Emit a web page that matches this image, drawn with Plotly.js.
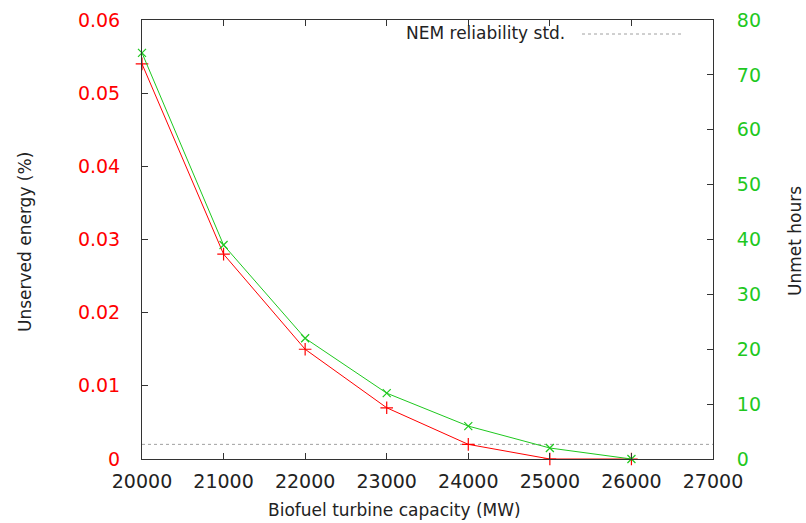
<!DOCTYPE html>
<html>
<head>
<meta charset="utf-8">
<script src="https://cdn.plot.ly/plotly-3.0.1.min.js"></script>
<style>html,body{margin:0;padding:0;background:#fff;}#chart{width:806px;height:523px;}</style>
</head>
<body>
<div id="chart"></div>
<script>
// Data
const capacity = [20000, 21000, 22000, 23000, 24000, 25000, 26000];
const unservedEnergy = [0.054, 0.028, 0.015, 0.007, 0.002, 0, 0];
const unmetHours = [74, 39, 22, 12, 6, 2, 0];
const nemX = [20000, 27000];
const nemY = [0.002, 0.002];
const nemLabel = "NEM reliability std.";
const xTitle = "Biofuel turbine capacity (MW)";
const yTitle = "Unserved energy (%)";
const y2Title = "Unmet hours";

const RED = "#ff0000", GREEN = "#1ec81e", FRAME = "#333333", TEXT = "#222222";
const FONT = "DejaVu Sans";

// plot area in pixels: x 142..713, y 20..459
const px = v => (v - 142) / 571;
const py = v => (459 - v) / 439;

const traces = [
  {x: nemX, y: nemY, type: "scatter", mode: "lines", yaxis: "y",
   line: {color: "#a0a0a0", width: 1, dash: "dot"}, showlegend: false, hoverinfo: "skip"},
  {x: capacity, y: unservedEnergy, type: "scatter", mode: "lines+markers", yaxis: "y",
   line: {color: RED, width: 1}, marker: {symbol: "cross-thin", size: 9, color: RED, line: {color: RED, width: 1.2}},
   cliponaxis: false, showlegend: false},
  {x: capacity, y: unmetHours, type: "scatter", mode: "lines+markers", yaxis: "y2",
   line: {color: GREEN, width: 1}, marker: {symbol: "x-thin", size: 8, color: GREEN, line: {color: GREEN, width: 1.2}},
   cliponaxis: false, showlegend: false}
];

const layout = {
  width: 806, height: 523,
  margin: {l: 142, r: 93, t: 20, b: 64},
  paper_bgcolor: "#fff", plot_bgcolor: "#fff",
  font: {family: FONT, size: 17, color: TEXT},
  showlegend: false,
  xaxis: {
    range: [20000, 27000], dtick: 1000, tick0: 20000, tickformat: "d",
    showgrid: false, zeroline: false,
    showline: true, linecolor: FRAME, linewidth: 1, mirror: "ticks",
    ticks: "inside", ticklen: 6, tickcolor: FRAME,
    tickfont: {family: FONT, size: 19, color: TEXT},
    ticklabelstandoff: 5
  },
  yaxis: {
    range: [0, 0.06], dtick: 0.01, tick0: 0,
    showgrid: false, zeroline: false,
    showline: true, linecolor: FRAME, linewidth: 1,
    ticks: "inside", ticklen: 6, tickcolor: FRAME,
    tickfont: {family: FONT, size: 19, color: RED},
    ticklabelstandoff: 17
  },
  yaxis2: {
    range: [0, 80], dtick: 10, tick0: 0, overlaying: "y", side: "right",
    showgrid: false, zeroline: false,
    showline: true, linecolor: FRAME, linewidth: 1,
    ticks: "inside", ticklen: 6, tickcolor: FRAME,
    tickfont: {family: FONT, size: 19, color: GREEN},
    ticklabelstandoff: 19
  },
  annotations: [
    {text: xTitle, xref: "paper", yref: "paper",
     x: px(394), y: py(510), xanchor: "center", yanchor: "middle", showarrow: false,
     font: {family: FONT, size: 17, color: TEXT}},
    {text: yTitle, xref: "paper", yref: "paper", textangle: -90,
     x: px(25), y: py(242), xanchor: "center", yanchor: "middle", showarrow: false,
     font: {family: FONT, size: 17, color: TEXT}},
    {text: y2Title, xref: "paper", yref: "paper", textangle: -90,
     x: px(795), y: py(241), xanchor: "center", yanchor: "middle", showarrow: false,
     font: {family: FONT, size: 17, color: TEXT}},
    {text: nemLabel, xref: "paper", yref: "paper",
     x: px(567), y: py(33), xanchor: "right", yanchor: "middle", showarrow: false,
     font: {family: FONT, size: 17, color: TEXT}}
  ],
  shapes: [
    {type: "line", xref: "paper", yref: "paper",
     x0: px(582), x1: px(682), y0: py(34), y1: py(34),
     line: {color: "#a0a0a0", width: 1, dash: "dot"}}
  ]
};

Plotly.newPlot("chart", traces, layout, {displayModeBar: false, staticPlot: true});
</script>
</body>
</html>
